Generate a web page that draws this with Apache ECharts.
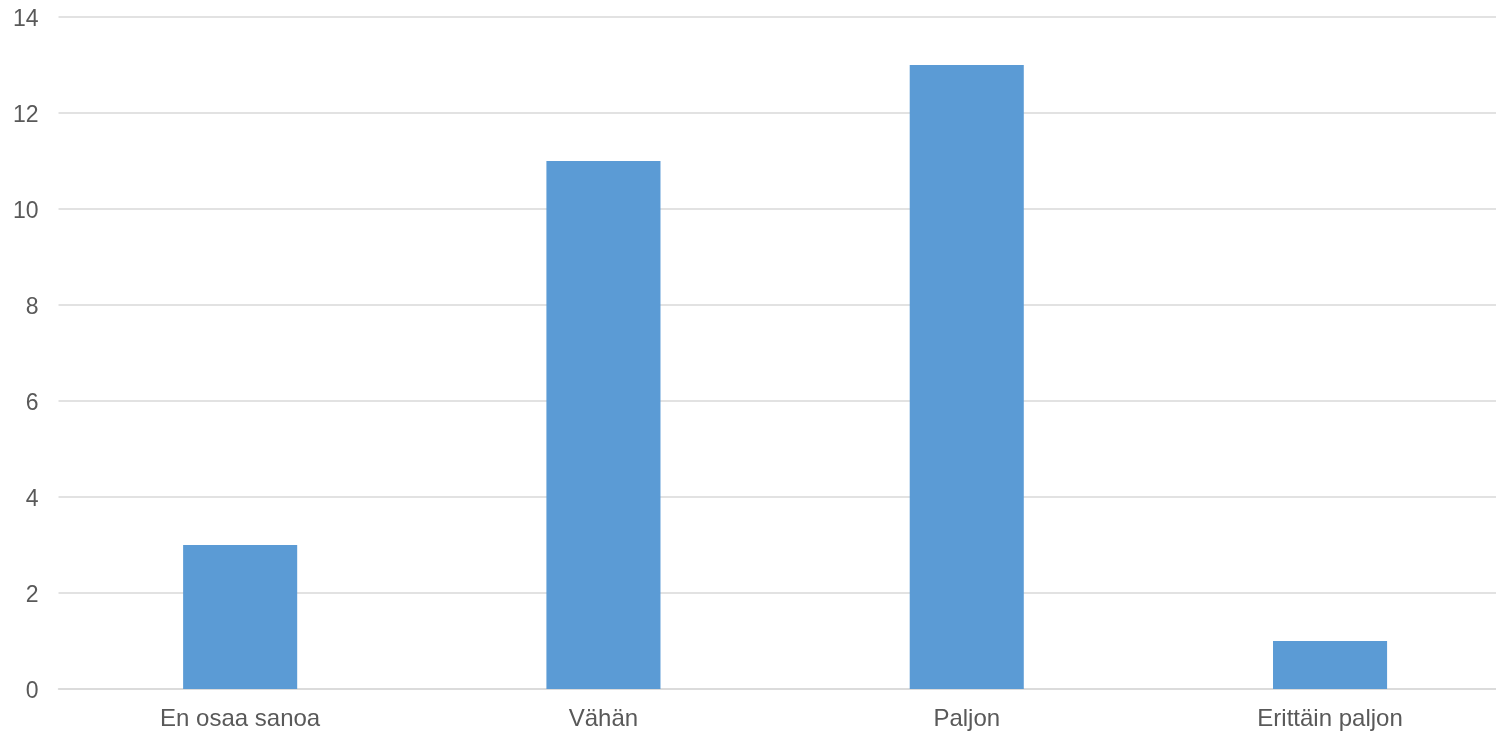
<!DOCTYPE html>
<html>
<head>
<meta charset="utf-8">
<script src="https://cdn.jsdelivr.net/npm/echarts@6/dist/echarts.min.js"></script>
<style>html,body{margin:0;padding:0;background:#fff}#c{width:1496px;height:732px}</style>
</head>
<body>
<div id="c"></div>
<script>
const categories = ['En osaa sanoa', 'Vähän', 'Paljon', 'Erittäin paljon'];
const values = [3, 11, 13, 1];
const yTicks = [0, 2, 4, 6, 8, 10, 12, 14];

const chart = echarts.init(document.getElementById('c'), null, {renderer: 'canvas'});
chart.setOption({
  animation: false,
  grid: {left: 58.5, right: -15.7, top: 17, bottom: 43, containLabel: false, outerBoundsMode: 'none'},
  xAxis: {
    type: 'category',
    data: categories,
    axisLine: {show: true, lineStyle: {color: '#d9d9d9', width: 1.5}},
    axisTick: {show: false},
    axisLabel: {color: '#595959', fontFamily: 'Liberation Sans, Arial', fontSize: 24, margin: 18}
  },
  yAxis: {
    type: 'value',
    min: yTicks[0],
    max: yTicks[yTicks.length - 1],
    interval: 2,
    axisLine: {show: false},
    axisTick: {show: false},
    splitLine: {lineStyle: {color: '#d9d9d9', width: 1.5}},
    axisLabel: {color: '#595959', fontFamily: 'Liberation Sans, Arial', fontSize: 23, margin: 20, lineHeight: 28, verticalAlign: 'top', padding: [-11, 0, 0, 0]}
  },
  series: [{
    type: 'bar',
    data: values,
    barWidth: '31.4%',
    itemStyle: {color: '#5b9bd5'}
  }]
});
</script>
</body>
</html>
